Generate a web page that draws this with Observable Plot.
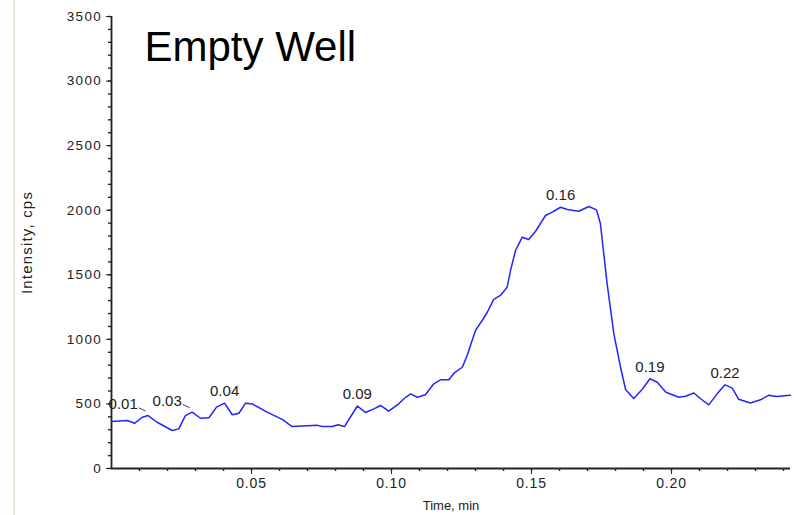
<!DOCTYPE html>
<html>
<head>
<meta charset="utf-8">
<script src="https://cdn.jsdelivr.net/npm/d3@7"></script>
<script src="https://cdn.jsdelivr.net/npm/@observablehq/plot@0.6"></script>
<style>
  html, body { margin: 0; padding: 0; background: #fff; }
  #chart { position: relative; width: 794px; height: 515px; }
  #edge { position: absolute; left: 13px; top: 0; width: 2px; height: 515px; background: #ece9d8; }
  #chart svg g[aria-label="y-axis tick label"] text { letter-spacing: 1.3px; }
  #chart svg g[aria-label="x-axis tick label"] text { letter-spacing: 0.8px; }
  #chart svg g[aria-label="y-axis label"] text { letter-spacing: 1.2px; }
</style>
</head>
<body>
<div id="chart"><div id="edge"></div></div>
<script>
// Total ion chromatogram of the empty well (time in minutes, intensity in cps)
const times = [
  0.0000, 0.0056, 0.0083, 0.0110, 0.0131, 0.0163, 0.0217, 0.0240, 0.0264, 0.0288,
  0.0318, 0.0348, 0.0375, 0.0404, 0.0431, 0.0455, 0.0479, 0.0504, 0.0556, 0.0611,
  0.0645, 0.0735, 0.0753, 0.0788, 0.0809, 0.0832, 0.0878, 0.0907, 0.0937, 0.0961,
  0.0990, 0.1026, 0.1044, 0.1068, 0.1092, 0.1121, 0.1151, 0.1175, 0.1205, 0.1223,
  0.1253, 0.1270, 0.1300, 0.1324, 0.1342, 0.1365, 0.1389, 0.1413, 0.1425, 0.1443,
  0.1467, 0.1490, 0.1514, 0.1550, 0.1574, 0.1604, 0.1628, 0.1669, 0.1705, 0.1732,
  0.1746, 0.1770, 0.1794, 0.1818, 0.1836, 0.1865, 0.1895, 0.1923, 0.1949, 0.1980,
  0.2026, 0.2050, 0.2080, 0.2104, 0.2133, 0.2163, 0.2191, 0.2217, 0.2240, 0.2282,
  0.2318, 0.2348, 0.2375, 0.2425
];
const intensities = [
  364, 372, 351, 397, 410, 358, 294, 307, 410, 436,
  389, 393, 475, 506, 416, 428, 506, 499, 436, 379,
  325, 334, 325, 325, 339, 325, 484, 434, 462, 488,
  444, 501, 540, 578, 552, 571, 656, 687, 687, 738,
  784, 875, 1069, 1146, 1210, 1309, 1340, 1404, 1533, 1688,
  1791, 1773, 1835, 1959, 1985, 2023, 2005, 1992, 2029, 2003,
  1897, 1432, 1045, 784, 612, 542, 612, 695, 668, 591,
  552, 560, 585, 540, 493, 578, 648, 622, 536, 507,
  532, 568, 557, 568
];

// Apex retention times of the labelled peaks
const peakTimes = [0.0131, 0.0288, 0.0404, 0.0878, 0.1604, 0.1923, 0.2191];
// The first two labels are pushed left with a short leader
const crowdedCount = 2;

// Axis ticks
const yMajor = d3.range(0, 3501, 500);
const yMinor = d3.range(0, 3501, 100);
const xMajor = [0.05, 0.10, 0.15, 0.20];
const xMinor = d3.range(1, 25).map(i => i / 100);

const trace = times.map((t, i) => ({t, i: intensities[i]}));
const peaks = peakTimes.map(t => {
  const k = d3.minIndex(times, v => Math.abs(v - t));
  return {t: times[k], i: intensities[k], label: d3.format(".2f")(t)};
});
const crowded = peaks.slice(0, crowdedCount);
const spaced = peaks.slice(crowdedCount);

const axisColor = "#222";
const lineColor = "#2424ff";

const plot = Plot.plot({
  width: 794,
  height: 515,
  marginLeft: 111,
  marginRight: 4,
  marginTop: 16,
  marginBottom: 47,
  style: {fontFamily: "'Liberation Sans', Arial, sans-serif", fontSize: "12px", color: "#222", background: "transparent"},
  x: {domain: [0, 0.2425]},
  y: {domain: [0, 3500]},
  marks: [
    Plot.axisY(yMinor, {tickSize: 3, strokeWidth: 1.4, text: null, label: null, stroke: axisColor}),
    Plot.axisY(yMajor, {tickSize: 5, tickPadding: 4.5, tickFormat: "d", stroke: axisColor, fill: "#222",
      fontSize: 13.5, label: "Intensity, cps", labelAnchor: "center", labelArrow: "none", labelOffset: 90}),
    Plot.axisX(xMinor, {tickSize: 3, strokeWidth: 1.4, text: null, label: null, stroke: axisColor}),
    Plot.axisX(xMajor, {tickSize: 6, tickPadding: 4, tickFormat: ".2f", stroke: axisColor, fill: "#222",
      fontSize: 14, label: "Time, min", labelAnchor: "center", labelArrow: "none", labelOffset: 41}),
    Plot.ruleX([0], {stroke: axisColor, strokeWidth: 1.8}),
    Plot.ruleY([0], {stroke: axisColor, strokeWidth: 1.8}),
    Plot.line(trace, {x: "t", y: "i", stroke: lineColor, strokeWidth: 1.5}),
    Plot.text(spaced, {x: "t", y: "i", text: "label", dy: -12, fontSize: 15, fill: "#222",
      style: "letter-spacing: 0.6px"}),
    Plot.text(crowded, {x: "t", y: "i", text: "label", dx: -25, dy: -11, fontSize: 15, fill: "#222"}),
    Plot.link(crowded, {
      x1: d => d.t - 0.0034, y1: d => d.i + 60,
      x2: d => d.t - 0.0009, y2: d => d.i + 35,
      stroke: "#444", strokeWidth: 1
    }),
    Plot.text(["Empty Well"], {frameAnchor: "top-left", text: d => d, dx: 33, dy: 15,
      lineAnchor: "top", textAnchor: "start", fontSize: 42, fill: "#000"})
  ]
});
document.getElementById("chart").appendChild(plot);
d3.select(plot).selectAll('g[aria-label="y-axis label"] text').style("font-size", "15px");
d3.select(plot).selectAll('g[aria-label="x-axis label"] text').style("font-size", "13px");
</script>
</body>
</html>
